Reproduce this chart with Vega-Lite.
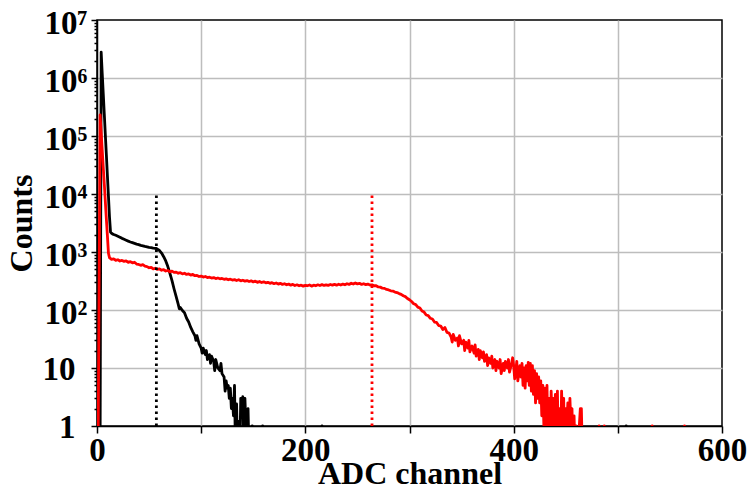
{
  "$schema": "https://vega.github.io/schema/vega-lite/v6.json",
  "width": 625,
  "height": 406,
  "autosize": {"type": "none"},
  "padding": {"left": 97, "top": 20, "right": 27, "bottom": 63},
  "background": "white",
  "config": {
    "view": {"stroke": "black", "strokeWidth": 1.5},
    "axis": {
      "domainColor": "black", "domainWidth": 1.5,
      "tickColor": "black", "tickWidth": 1.5,
      "gridColor": "#bdbdbd", "gridWidth": 1.5,
      "labelFont": "Liberation Serif", "labelFontWeight": "bold", "labelFontSize": 33, "labelColor": "black",
      "labelOverlap": false, "labelFlush": false, "labelBound": false,
      "titleFont": "Liberation Serif", "titleFontWeight": "bold", "titleFontSize": 32, "titleColor": "black"
    }
  },
  "datasets": {
    "black": [
      {"c":0,"v":0.3},{"c":2,"v":0.3},{"c":3,"v":0.5},{"c":4,"v":2800000},{"c":5,"v":1200000},{"c":6,"v":540000},{"c":7,"v":240000},{"c":8,"v":105000},{"c":9,"v":47000},{"c":10,"v":20500},{"c":11,"v":9100},{"c":12,"v":4000},{"c":13,"v":2200},{"c":14,"v":2100},{"c":15,"v":2050},{"c":16,"v":2000},{"c":18,"v":1940},{"c":20,"v":1870},{"c":22,"v":1800},{"c":24,"v":1720},{"c":26,"v":1660},{"c":28,"v":1600},{"c":30,"v":1540},{"c":32,"v":1490},{"c":34,"v":1450},{"c":36,"v":1410},{"c":38,"v":1370},{"c":40,"v":1340},{"c":42,"v":1300},{"c":44,"v":1280},{"c":46,"v":1250},{"c":48,"v":1230},{"c":50,"v":1200},{"c":52,"v":1185},{"c":54,"v":1165},{"c":56,"v":1150},{"c":57,"v":1150},{"c":58,"v":1120},{"c":60,"v":1060},{"c":62,"v":960},{"c":64,"v":830},{"c":66,"v":700},{"c":68,"v":560},{"c":70,"v":430},{"c":72,"v":320},{"c":74,"v":230},{"c":76,"v":170},{"c":78,"v":125},{"c":79,"v":105},{"c":80,"v":110},{"c":82,"v":98},{"c":84,"v":90},{"c":86,"v":72},{"c":88,"v":62},{"c":90,"v":50},{"c":92,"v":42},{"c":94,"v":36},{"c":95,"v":30},{"c":96,"v":36},{"c":98,"v":26},{"c":100,"v":22},{"c":101,"v":18},{"c":102,"v":22},{"c":104,"v":17},{"c":105,"v":20},{"c":106,"v":14},{"c":108,"v":17},{"c":109,"v":12},{"c":110,"v":16},{"c":112,"v":13},{"c":113,"v":9},{"c":114,"v":14},{"c":116,"v":10},{"c":118,"v":9},{"c":119,"v":12},{"c":120,"v":8},{"c":122,"v":7},{"c":123,"v":4},{"c":124,"v":6},{"c":125,"v":4.5},{"c":126,"v":5},{"c":127,"v":3},{"c":128,"v":4.5},{"c":129,"v":2},{"c":130,"v":3},{"c":131,"v":1.5},{"c":132,"v":5},{"c":133,"v":0.3},{"c":134,"v":2.4},{"c":135,"v":0.3},{"c":136,"v":1.2},{"c":137,"v":0.3},{"c":138,"v":3},{"c":139,"v":1.5},{"c":140,"v":3.2},{"c":141,"v":0.3},{"c":142,"v":3},{"c":143,"v":1},{"c":144,"v":0.3},{"c":145,"v":2},{"c":146,"v":0.3},{"c":148,"v":0.3},{"c":149,"v":1},{"c":150,"v":0.3},{"c":158,"v":0.3},{"c":159,"v":1},{"c":160,"v":0.3},{"c":215,"v":0.3},{"c":216,"v":1},{"c":217,"v":0.3},{"c":507,"v":0.3},{"c":508,"v":1},{"c":509,"v":0.3},{"c":600,"v":0.3}
    ],
    "red": [
      {"c":0,"v":0.3},{"c":1,"v":0.3},{"c":2,"v":220},{"c":3,"v":230000},{"c":4,"v":115000},{"c":5,"v":58000},{"c":6,"v":29000},{"c":7,"v":15000},{"c":8,"v":7400},{"c":9,"v":3700},{"c":10,"v":1900},{"c":11,"v":950},{"c":12,"v":800},{"c":13,"v":770},{"c":14,"v":745},{"c":16,"v":760},{"c":18,"v":720},{"c":20,"v":735},{"c":22,"v":700},{"c":24,"v":715},{"c":26,"v":690},{"c":28,"v":700},{"c":30,"v":665},{"c":32,"v":680},{"c":34,"v":650},{"c":36,"v":665},{"c":38,"v":620},{"c":40,"v":610},{"c":42,"v":590},{"c":44,"v":605},{"c":46,"v":570},{"c":48,"v":560},{"c":50,"v":535},{"c":52,"v":545},{"c":54,"v":510},{"c":56,"v":525},{"c":58,"v":500},{"c":60,"v":510},{"c":62,"v":485},{"c":64,"v":495},{"c":66,"v":470},{"c":68,"v":480},{"c":70,"v":455},{"c":72,"v":468},{"c":74,"v":445},{"c":76,"v":450},{"c":78,"v":430},{"c":80,"v":440},{"c":82,"v":420},{"c":84,"v":430},{"c":86,"v":410},{"c":88,"v":418},{"c":90,"v":400},{"c":92,"v":410},{"c":94,"v":390},{"c":96,"v":395},{"c":98,"v":378},{"c":100,"v":385},{"c":102,"v":370},{"c":104,"v":378},{"c":106,"v":362},{"c":108,"v":368},{"c":110,"v":355},{"c":112,"v":362},{"c":114,"v":348},{"c":116,"v":356},{"c":118,"v":345},{"c":120,"v":350},{"c":122,"v":338},{"c":124,"v":345},{"c":126,"v":332},{"c":128,"v":340},{"c":130,"v":328},{"c":132,"v":334},{"c":134,"v":322},{"c":136,"v":332},{"c":138,"v":318},{"c":140,"v":326},{"c":142,"v":315},{"c":144,"v":322},{"c":146,"v":310},{"c":148,"v":318},{"c":150,"v":305},{"c":152,"v":314},{"c":154,"v":300},{"c":156,"v":310},{"c":158,"v":298},{"c":160,"v":306},{"c":162,"v":294},{"c":164,"v":300},{"c":166,"v":288},{"c":168,"v":296},{"c":170,"v":284},{"c":172,"v":292},{"c":174,"v":280},{"c":176,"v":288},{"c":178,"v":276},{"c":180,"v":284},{"c":182,"v":272},{"c":184,"v":280},{"c":186,"v":268},{"c":188,"v":276},{"c":190,"v":264},{"c":192,"v":272},{"c":194,"v":262},{"c":196,"v":268},{"c":198,"v":258},{"c":200,"v":266},{"c":202,"v":262},{"c":204,"v":270},{"c":206,"v":258},{"c":208,"v":268},{"c":210,"v":262},{"c":212,"v":272},{"c":214,"v":264},{"c":216,"v":274},{"c":218,"v":265},{"c":220,"v":272},{"c":222,"v":266},{"c":224,"v":275},{"c":226,"v":268},{"c":228,"v":276},{"c":230,"v":268},{"c":232,"v":278},{"c":234,"v":270},{"c":236,"v":280},{"c":238,"v":272},{"c":240,"v":284},{"c":242,"v":276},{"c":244,"v":290},{"c":246,"v":280},{"c":248,"v":292},{"c":250,"v":282},{"c":252,"v":288},{"c":254,"v":276},{"c":256,"v":284},{"c":258,"v":274},{"c":260,"v":280},{"c":262,"v":270},{"c":264,"v":272},{"c":266,"v":262},{"c":268,"v":262},{"c":270,"v":250},{"c":272,"v":248},{"c":274,"v":238},{"c":276,"v":236},{"c":278,"v":226},{"c":280,"v":222},{"c":282,"v":214},{"c":284,"v":212},{"c":286,"v":204},{"c":288,"v":200},{"c":290,"v":192},{"c":292,"v":186},{"c":294,"v":176},{"c":296,"v":170},{"c":298,"v":158},{"c":300,"v":150},{"c":302,"v":140},{"c":304,"v":128},{"c":306,"v":124},{"c":308,"v":112},{"c":310,"v":108},{"c":312,"v":96},{"c":314,"v":92},{"c":316,"v":82},{"c":318,"v":80},{"c":320,"v":72},{"c":322,"v":70},{"c":324,"v":62},{"c":326,"v":61},{"c":328,"v":54},{"c":330,"v":53},{"c":332,"v":46},{"c":334,"v":50},{"c":336,"v":41},{"c":338,"v":40},{"c":340,"v":34},{"c":341,"v":28},{"c":342,"v":38},{"c":344,"v":30},{"c":346,"v":33},{"c":347,"v":24},{"c":348,"v":36},{"c":350,"v":26},{"c":352,"v":30},{"c":353,"v":20},{"c":354,"v":28},{"c":356,"v":22},{"c":357,"v":30},{"c":358,"v":19},{"c":360,"v":24},{"c":362,"v":18},{"c":363,"v":25},{"c":364,"v":16},{"c":366,"v":21},{"c":367,"v":14},{"c":368,"v":20},{"c":370,"v":15},{"c":371,"v":19},{"c":372,"v":13},{"c":374,"v":17},{"c":375,"v":11},{"c":376,"v":15},{"c":378,"v":12},{"c":379,"v":16},{"c":380,"v":10},{"c":382,"v":14},{"c":383,"v":9},{"c":384,"v":13},{"c":386,"v":10},{"c":387,"v":14},{"c":388,"v":8},{"c":390,"v":12},{"c":391,"v":9},{"c":392,"v":13},{"c":394,"v":10},{"c":395,"v":14},{"c":396,"v":8.5},{"c":398,"v":12},{"c":399,"v":15},{"c":400,"v":11},{"c":401,"v":6.5},{"c":402,"v":9},{"c":403,"v":13},{"c":404,"v":6},{"c":406,"v":11},{"c":407,"v":7},{"c":408,"v":12},{"c":409,"v":5},{"c":410,"v":10},{"c":411,"v":4.5},{"c":412,"v":11},{"c":413,"v":6},{"c":414,"v":12.5},{"c":415,"v":5},{"c":416,"v":12},{"c":417,"v":4},{"c":418,"v":11},{"c":419,"v":3.5},{"c":420,"v":9},{"c":421,"v":2.5},{"c":422,"v":8},{"c":423,"v":3},{"c":424,"v":7},{"c":425,"v":2.5},{"c":426,"v":6},{"c":427,"v":1.5},{"c":428,"v":5},{"c":429,"v":1},{"c":430,"v":4.5},{"c":431,"v":0.3},{"c":432,"v":5},{"c":433,"v":0.3},{"c":434,"v":3},{"c":435,"v":0.3},{"c":436,"v":4},{"c":437,"v":1},{"c":438,"v":3},{"c":439,"v":0.3},{"c":440,"v":3.5},{"c":441,"v":1},{"c":442,"v":4},{"c":443,"v":0.3},{"c":444,"v":2},{"c":445,"v":0.3},{"c":446,"v":4},{"c":447,"v":1},{"c":448,"v":3},{"c":449,"v":0.3},{"c":450,"v":2},{"c":451,"v":1},{"c":452,"v":2.5},{"c":453,"v":0.3},{"c":454,"v":3},{"c":455,"v":1},{"c":456,"v":2},{"c":457,"v":0.3},{"c":458,"v":1.5},{"c":459,"v":0.3},{"c":460,"v":1},{"c":461,"v":0.3},{"c":463,"v":1},{"c":464,"v":2},{"c":465,"v":2},{"c":466,"v":0.3},{"c":481,"v":0.3},{"c":482,"v":1},{"c":483,"v":0.3},{"c":486,"v":0.3},{"c":487,"v":1},{"c":488,"v":0.3},{"c":532,"v":0.3},{"c":533,"v":1},{"c":534,"v":0.3},{"c":563,"v":0.3},{"c":564,"v":1},{"c":565,"v":0.3},{"c":600,"v":0.3}
    ],
    "markers": [
      {"c":57,"v":1,"v2":10000,"s":"b"},
      {"c":264,"v":1,"v2":10000,"s":"r"}
    ]
  },
  "layer": [
    {
      "data": {"name": "black"},
      "mark": {"type": "line", "color": "#000000", "strokeWidth": 2.8, "clip": true, "strokeJoin": "round"},
      "encoding": {
        "x": {
          "field": "c", "type": "quantitative", "title": "ADC channel",
          "scale": {"domain": [0, 600], "nice": false, "zero": false},
          "axis": {
            "values": [0, 100, 200, 300, 400, 500, 600],
            "labelExpr": "datum.value % 200 == 0 ? datum.label : ''",
            "tickSize": 7,
            "labelPadding": 1,
            "titlePadding": -9,
            "gridOpacity": {"condition": {"test": "datum.value > 0 && datum.value < 600", "value": 1}, "value": 0}
          }
        },
        "y": {
          "field": "v", "type": "quantitative", "title": "Counts",
          "scale": {"type": "log", "domain": [1, 10000000], "nice": false},
          "axis": {
            "values": [1,2,3,4,5,6,7,8,9,10,20,30,40,50,60,70,80,90,100,200,300,400,500,600,700,800,900,1000,2000,3000,4000,5000,6000,7000,8000,9000,10000,20000,30000,40000,50000,60000,70000,80000,90000,100000,200000,300000,400000,500000,600000,700000,800000,900000,1000000,2000000,3000000,4000000,5000000,6000000,7000000,8000000,9000000,10000000],
            "labelExpr": "datum.value == 1 ? '1' : datum.value == 10 ? '10' : datum.value == 100 ? '10²' : datum.value == 1000 ? '10³' : datum.value == 10000 ? '10⁴' : datum.value == 100000 ? '10⁵' : datum.value == 1000000 ? '10⁶' : datum.value == 10000000 ? '10⁷' : ''",
            "tickSize": {"condition": {"test": "indexof([1,10,100,1000,10000,100000,1000000,10000000], datum.value) >= 0", "value": 6}, "value": 3},
            "gridOpacity": {"condition": {"test": "indexof([10,100,1000,10000,100000,1000000], datum.value) >= 0", "value": 1}, "value": 0},
            "labelPadding": {"condition": {"test": "datum.value >= 100", "value": 4}, "value": 16},
            "labelOffset": {"condition": {"test": "datum.value >= 100", "value": 3}, "value": 1},
            "labelBaseline": "middle",
            "titlePadding": 4
          }
        }
      }
    },
    {
      "data": {"name": "red"},
      "mark": {"type": "line", "color": "#ff0000", "strokeWidth": 2.8, "clip": true, "strokeJoin": "round"},
      "encoding": {
        "x": {"field": "c", "type": "quantitative", "title": "ADC channel"},
        "y": {"field": "v", "type": "quantitative", "title": "Counts"}
      }
    },
    {
      "data": {"name": "markers"},
      "mark": {"type": "rule", "strokeWidth": 2.8, "strokeDash": [2.5, 3.5], "clip": true},
      "encoding": {
        "x": {"field": "c", "type": "quantitative", "title": "ADC channel"},
        "y": {"field": "v", "type": "quantitative", "title": "Counts"},
        "y2": {"field": "v2"},
        "color": {"field": "s", "type": "nominal", "scale": {"domain": ["b", "r"], "range": ["#000000", "#ff0000"]}, "legend": null}
      }
    }
  ]
}
